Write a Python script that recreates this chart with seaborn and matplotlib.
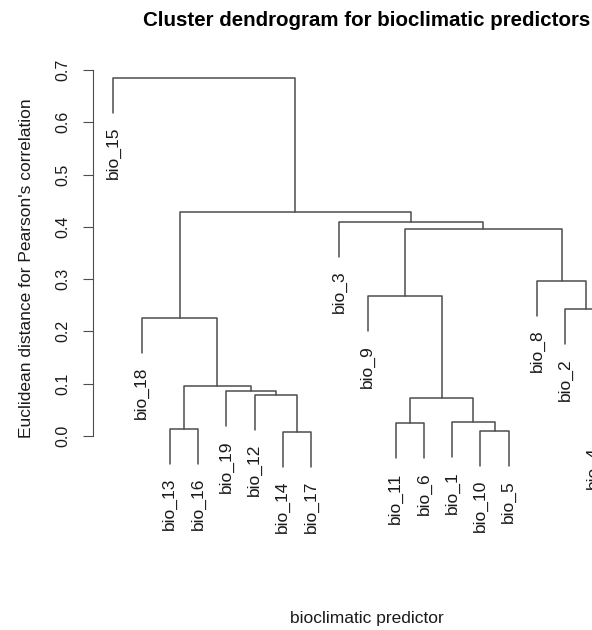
import numpy as np
import pandas as pd
import seaborn as sns
import matplotlib.pyplot as plt

# leaves in plotting order (left to right)
leaf_labels = ["bio_15", "bio_18", "bio_13", "bio_16", "bio_19", "bio_12", "bio_14",
               "bio_17", "bio_3", "bio_9", "bio_11", "bio_6", "bio_1", "bio_10",
               "bio_5", "bio_8", "bio_2", "bio_4", "bio_7"]

# merge steps: m1, m2, ... in order
merge_left = ["bio_14", "bio_10", "bio_13", "bio_11", "bio_1", "m4", "bio_4", "bio_12",
              "bio_19", "m3", "bio_18", "bio_2", "bio_9", "bio_8", "m13", "bio_3",
              "m11", "bio_15"]
merge_right = ["bio_17", "bio_5", "bio_16", "bio_6", "m2", "m5", "bio_7", "m1",
               "m8", "m9", "m10", "m7", "m6", "m12", "m14", "m15", "m16", "m17"]
merge_height = [0.008, 0.0096, 0.013, 0.024, 0.026, 0.072, 0.073, 0.079, 0.0855,
                0.0956, 0.2255, 0.242, 0.268, 0.297, 0.3965, 0.41, 0.428, 0.685]

hang = 0.067
line_col = "#4d4d4d"
text_col = "#1a1a1a"

sns.set_theme(style="white")
plt.rcParams["font.family"] = ["Liberation Sans", "DejaVu Sans"]

# build the dendrogram segments
pos = {name: i + 1 for i, name in enumerate(leaf_labels)}
top = {}
leaf_end = {}
rows = []
for k, (l, r, h) in enumerate(zip(merge_left, merge_right, merge_height)):
    node = "m%d" % (k + 1)
    yl = top.get(l, h - hang)
    yr = top.get(r, h - hang)
    if l not in top:
        leaf_end[l] = yl
    if r not in top:
        leaf_end[r] = yr
    for x, y in [(pos[l], yl), (pos[l], h), (pos[r], h), (pos[r], yr)]:
        rows.append({"node": node, "x": x, "y": y})
    pos[node] = (pos[l] + pos[r]) / 2
    top[node] = h
segs = pd.DataFrame(rows)

fig = plt.figure(figsize=(5.92, 6.30), dpi=100)
ax = fig.add_axes([93 / 592, 1 - 480 / 630, 549 / 592, 420 / 630])

sns.lineplot(data=segs, x="x", y="y", units="node", estimator=None, sort=False,
             color=line_col, lw=1.1, ax=ax, legend=False)

for name in leaf_labels:
    ax.annotate(name, (pos[name], leaf_end[name]), xytext=(0, -10),
                textcoords="offset points", rotation=90, ha="center", va="top",
                fontsize=12.5, color=text_col, annotation_clip=False)

ax.set_xlim(0.28, 19.72)
ax.set_ylim(-0.08415, 0.7191)
ax.set_xticks([])
yt = np.arange(0, 0.71, 0.1)
ax.set_yticks(yt)
ax.set_yticklabels(["%.1f" % v for v in yt], rotation=90, va="center")
ax.tick_params(axis="y", left=True, length=7.2, width=0.8, color=line_col,
               pad=9, labelsize=11.5, labelcolor=text_col)
for s in ["top", "right", "bottom"]:
    ax.spines[s].set_visible(False)
ax.spines["left"].set_bounds(0, 0.7)
ax.spines["left"].set_color(line_col)
ax.spines["left"].set_linewidth(0.8)
ax.set_xlabel("")
ax.set_ylabel("")

fig.text(367 / 592, 1 - 21 / 630, "Cluster dendrogram for bioclimatic predictors",
         ha="center", va="center", fontsize=14.8, fontweight="bold", color="black")
fig.text(367 / 592, 1 - 618 / 630, "bioclimatic predictor",
         ha="center", va="center", fontsize=12.5, color=text_col)
fig.text(27 / 592, 1 - 268 / 630, "Euclidean distance for Pearson's correlation",
         ha="center", va="center", rotation=90, fontsize=12.5, color=text_col)

fig.savefig("out.png", dpi=100, facecolor="white")
